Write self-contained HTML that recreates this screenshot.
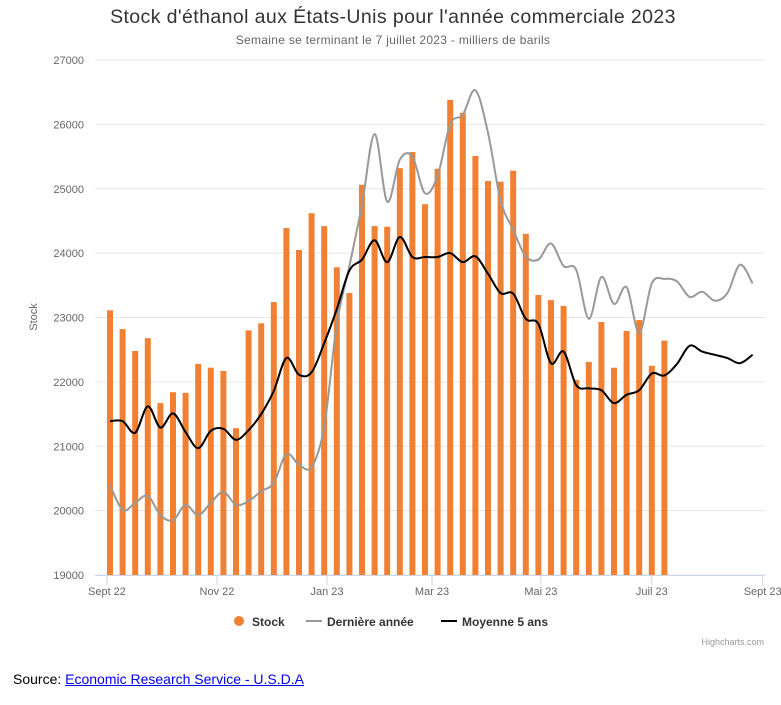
<!DOCTYPE html>
<html><head><meta charset="utf-8">
<style>
body{margin:0;background:#fff;font-family:"Liberation Sans",sans-serif;}
#wrap{position:relative;width:781px;height:705px;}
#src{position:absolute;left:13px;top:671px;font-size:14px;color:#000;}
#src a{color:#0000ee;text-decoration:underline;}
</style></head><body>
<div id="wrap">
<svg id="chart" width="781" height="660" xmlns="http://www.w3.org/2000/svg"></svg>
<div id="src">Source: <a>Economic Research Service - U.S.D.A</a></div>
</div>
<script>
const stock=[23112,22820,22480,22680,21670,21840,21830,22280,22220,22170,21280,22800,22910,23240,24390,24050,24620,24420,23780,23380,25060,24420,24410,25320,25570,24760,25310,26380,26180,25510,25120,25110,25280,24300,23350,23270,23180,22030,22310,22930,22220,22790,22960,22250,22640];
const lastYear=[20400,20010,20120,20230,19930,19850,20090,19930,20120,20290,20090,20150,20300,20430,20880,20710,20680,21300,22900,23800,24750,25850,24800,25450,25500,24930,25200,26000,26150,26530,25870,24820,24360,23950,23900,24150,23800,23740,22980,23630,23210,23470,22760,23530,23600,23560,23320,23400,23260,23380,23820,23530];
const avg5=[21390,21390,21210,21620,21290,21510,21220,20970,21240,21270,21100,21250,21500,21860,22370,22110,22150,22600,23130,23730,23900,24200,23860,24250,23940,23940,23940,24000,23860,23950,23680,23380,23370,22980,22900,22290,22470,21950,21900,21870,21670,21800,21870,22130,22100,22280,22560,22470,22420,22370,22290,22420];
const yTicks=[19000,20000,21000,22000,23000,24000,25000,26000,27000];
const xTickLabels=["Sept 22","Nov 22","Jan 23","Mar 23","Mai 23","Juil 23","Sept 23"];
const xTickWeeks=[-0.24,8.49,17.22,25.56,34.2,43.0,51.8];

const svg=document.getElementById('chart');
const NS='http://www.w3.org/2000/svg';
const L=95,R=765,T=60,B=575;
const X=i=>110+12.6*i;
const Y=v=>B-(v-19000)*(B-T)/8000;
function mk(t,a,txt){const e=document.createElementNS(NS,t);for(const k in a)e.setAttribute(k,a[k]);if(txt!==undefined)e.textContent=txt;svg.appendChild(e);return e;}

let e=mk('text',{x:393,y:23,'text-anchor':'middle','font-size':19.5,'letter-spacing':0.4,fill:'#333'},"Stock d'éthanol aux États-Unis pour l'année commerciale 2023");


e=mk('text',{x:393,y:44,'text-anchor':'middle','font-size':12,'letter-spacing':0.3,fill:'#666'},"Semaine se terminant le 7 juillet 2023 - milliers de barils");



yTicks.forEach(v=>{
 const g=mk('line',{x1:L,x2:R,y1:Y(v),y2:Y(v),stroke:'#e6e6e6','stroke-width':1});
 
 
 const t=mk('text',{x:84,y:Y(v)+4,'text-anchor':'end','font-size':11,fill:'#666'},v);
 
 
});
e=mk('text',{x:37,y:317,'text-anchor':'middle','font-size':11,fill:'#666',transform:'rotate(-90 37 317)'},'Stock');



e=mk('line',{x1:L,x2:R,y1:B+0.5,y2:B+0.5,stroke:'#ccd6eb'});


xTickWeeks.forEach((w,k)=>{
 const x=X(w);
 const l=mk('line',{x1:x,x2:x,y1:B,y2:B+10,stroke:'#ccd6eb'});
 
 
 const t=mk('text',{x:x,y:B+20,'text-anchor':'middle','font-size':11,fill:'#666'},xTickLabels[k]);
 
 
});

stock.forEach((v,i)=>{
 const r=mk('rect',{x:X(i)-3,y:Y(v),width:6,height:B-Y(v),fill:'#f08033'});
 
 
});

function spline(arr){
 const p=arr.map((v,i)=>[X(i),Y(v)]);
 let d='M'+p[0][0]+','+p[0][1];
 for(let i=0;i<p.length-1;i++){
  const p0=p[Math.max(0,i-1)],p1=p[i],p2=p[i+1],p3=p[Math.min(p.length-1,i+2)];
  const c1=[p1[0]+(p2[0]-p0[0])/6,p1[1]+(p2[1]-p0[1])/6];
  const c2=[p2[0]-(p3[0]-p1[0])/6,p2[1]-(p3[1]-p1[1])/6];
  d+=' C'+c1[0]+','+c1[1]+' '+c2[0]+','+c2[1]+' '+p2[0]+','+p2[1];
 }
 return d;
}
e=mk('path',{d:spline(lastYear),fill:'none',stroke:'#999','stroke-width':2});


e=mk('path',{d:spline(avg5),fill:'none',stroke:'#000','stroke-width':2});



e=mk('circle',{cx:239,cy:621,r:5,fill:'#f08033'});


e=mk('text',{x:252,y:626,'font-size':12,'font-weight':'bold',fill:'#333'},'Stock');


e=mk('line',{x1:306,x2:322,y1:621,y2:621,stroke:'#999','stroke-width':2});


e=mk('text',{x:327,y:626,'font-size':12,'font-weight':'bold',fill:'#333'},'Dernière année');


e=mk('line',{x1:441,x2:457,y1:621,y2:621,stroke:'#000','stroke-width':2});


e=mk('text',{x:462,y:626,'font-size':12,'font-weight':'bold',fill:'#333'},'Moyenne 5 ans');


e=mk('text',{x:764,y:645,'text-anchor':'end','font-size':9,fill:'#999'},'Highcharts.com');


</script>
</body></html>
